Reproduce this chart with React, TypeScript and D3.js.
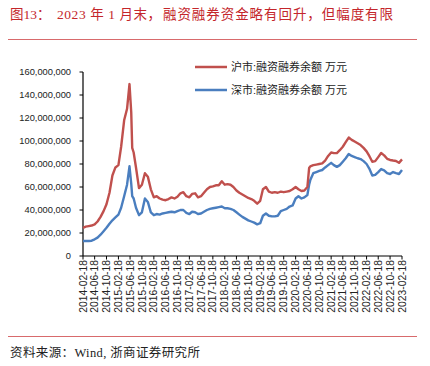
import React from 'react';
import * as d3 from 'd3';

// 日期（周期数据，取自图像）
const dates: string[] = [
  '2014-02-18','2014-03-18','2014-04-18','2014-05-18','2014-06-18','2014-07-18','2014-08-18','2014-09-18','2014-10-18','2014-11-18','2014-12-18',
  '2015-01-18','2015-02-18','2015-03-18','2015-04-18','2015-05-18','2015-06-12','2015-06-30','2015-07-10','2015-07-25','2015-08-18','2015-09-18','2015-10-18','2015-11-18','2015-12-18',
  '2016-01-18','2016-02-18','2016-03-18','2016-04-18','2016-05-18','2016-06-18','2016-07-18','2016-08-18','2016-09-18','2016-10-18','2016-11-18','2016-12-18',
  '2017-01-18','2017-02-18','2017-03-18','2017-04-18','2017-05-18','2017-06-18','2017-07-18','2017-08-18','2017-09-18','2017-10-18','2017-11-18','2017-12-18',
  '2018-01-18','2018-02-18','2018-03-18','2018-04-18','2018-05-18','2018-06-18','2018-07-18','2018-08-18','2018-09-18','2018-10-18','2018-11-18','2018-12-18',
  '2019-01-18','2019-02-18','2019-03-18','2019-04-18','2019-05-18','2019-06-18','2019-07-18','2019-08-18','2019-09-18','2019-10-18','2019-11-18','2019-12-18',
  '2020-01-18','2020-02-18','2020-03-18','2020-04-18','2020-05-18','2020-06-18','2020-07-06','2020-07-18','2020-08-18','2020-09-18','2020-10-18','2020-11-18','2020-12-18',
  '2021-01-18','2021-02-18','2021-03-18','2021-04-18','2021-05-18','2021-06-18','2021-07-18','2021-08-18','2021-09-18','2021-10-18','2021-11-18','2021-12-18',
  '2022-01-18','2022-02-18','2022-03-18','2022-04-18','2022-05-18','2022-06-18','2022-07-18','2022-08-18','2022-09-18','2022-10-18','2022-11-18','2022-12-18',
  '2023-01-18','2023-02-18',
];

// 沪市:融资融券余额 万元
const shValues: number[] = [
  24500000,25500000,26000000,26500000,27500000,30000000,34000000,39000000,45000000,55000000,70000000,
  77000000,79000000,95000000,118000000,128000000,149500000,125000000,94000000,90000000,77000000,59000000,62000000,72000000,69000000,
  58000000,51000000,52000000,50000000,49000000,48500000,49500000,51000000,50000000,51500000,54500000,55500000,
  52000000,51000000,54000000,54500000,51000000,52000000,55000000,58000000,60000000,60500000,61500000,61500000,
  65000000,62000000,62500000,62000000,60000000,57000000,55000000,53500000,52000000,50500000,49500000,48000000,
  45500000,48000000,58000000,60000000,56000000,55000000,55500000,55000000,56000000,55500000,56000000,56500000,
  58000000,60000000,58000000,56500000,57000000,60000000,76500000,78000000,79000000,79500000,80000000,80500000,83000000,
  87000000,90000000,89500000,89500000,92000000,95000000,99000000,103000000,101000000,99500000,98000000,96500000,
  94000000,91000000,87000000,82000000,82500000,86000000,89500000,87500000,84500000,83500000,83000000,82600000,
  81000000,84000000,
];

// 深市:融资融券余额 万元
const szValues: number[] = [
  13000000,13000000,13000000,13300000,14500000,16000000,18500000,21500000,24500000,28000000,31000000,
  33500000,36000000,42000000,52000000,62000000,78000000,63000000,52000000,50000000,42000000,35500000,38000000,50000000,47000000,
  38000000,35500000,36500000,36000000,37000000,37500000,38000000,38500000,38000000,39000000,40000000,40000000,
  37500000,36500000,38500000,38000000,36500000,37000000,38500000,40000000,41000000,41500000,42000000,42500000,
  43000000,41500000,41500000,41000000,40000000,38000000,36000000,34000000,32500000,31000000,30000000,29000000,
  27500000,28500000,35000000,37000000,35000000,34500000,34500000,35000000,39000000,40000000,41000000,43000000,
  44000000,50000000,52000000,50000000,51000000,53000000,62000000,66000000,72000000,73000000,74000000,74800000,77000000,
  79000000,81000000,79000000,77500000,79000000,82000000,85000000,88700000,87000000,86000000,85000000,84300000,
  82500000,80000000,76000000,70000000,70500000,73000000,75600000,74500000,72000000,71300000,73000000,72000000,
  71300000,74800000,
];

const yTicks: number[] = [0, 20000000, 40000000, 60000000, 80000000, 100000000, 120000000, 140000000, 160000000];

const xTickLabels: string[] = [
  '2014-02-18','2014-06-18','2014-10-18','2015-02-18','2015-06-18','2015-10-18','2016-02-18','2016-06-18','2016-10-18',
  '2017-02-18','2017-06-18','2017-10-18','2018-02-18','2018-06-18','2018-10-18','2019-02-18','2019-06-18','2019-10-18',
  '2020-02-18','2020-06-18','2020-10-18','2021-02-18','2021-06-18','2021-10-18','2022-02-18','2022-06-18','2022-10-18','2023-02-18',
];

const seriesNames: string[] = ['沪市:融资融券余额 万元', '深市:融资融券余额 万元'];
const titleParts: string[] = ['图13：', '2023 年 1 月末，', '融资融券资金略有回升，但幅度有限'];
const source = '资料来源：Wind, 浙商证券研究所';

const RED = '#C0504D';
const BLUE = '#4A7EBF';
const TITLE_RED = '#C4262B';

export default function App() {
  const W = 430, H = 366;
  const parse = d3.timeParse('%Y-%m-%d');
  const x = d3.scaleTime()
    .domain([parse('2014-02-18') as Date, parse('2023-02-18') as Date])
    .range([83, 402]);
  const y = d3.scaleLinear().domain([0, 160000000]).range([256, 72]);
  const fmt = d3.format(',');

  const pts = dates.map((d, i) => ({ d: parse(d) as Date, sh: shValues[i], sz: szValues[i] }));
  const lineSh = d3.line<any>().x(p => x(p.d)).y(p => y(p.sh)).curve(d3.curveLinear);
  const lineSz = d3.line<any>().x(p => x(p.d)).y(p => y(p.sz)).curve(d3.curveLinear);

  const sans = '"Liberation Sans", Arial, "Noto Sans CJK SC", sans-serif';
  const serif = '"Liberation Serif", "Times New Roman", "Noto Sans CJK SC", serif';

  const titleSlots: { x: number; len?: number }[] = [
    { x: 10 },
    { x: 57, len: 104 },
    { x: 163, len: 230 },
  ];

  return (
    <svg width={W} height={H} style={{ position: 'absolute', left: 0, top: 0, background: '#fff' }}>
      <rect x={0} y={0} width={W} height={H} fill="#fff" />
      {/* title */}
      {titleParts.map((t, i) => (
        <text key={i} x={titleSlots[i].x} y={19} fontFamily={serif} fontSize={13.5} fill={TITLE_RED}
          textLength={titleSlots[i].len} lengthAdjust="spacing">{t}</text>
      ))}
      <line x1={8} x2={417} y1={39.5} y2={39.5} stroke="#D86A6C" strokeWidth={1} />

      {/* y axis */}
      <line x1={83} x2={83} y1={y(160000000)} y2={256} stroke="#000" strokeWidth={1.2} />
      {yTicks.map(t => (
        <g key={t}>
          <line x1={79.5} x2={83} y1={y(t)} y2={y(t)} stroke="#000" strokeWidth={1} />
          <text x={71} y={y(t)} dy="0.35em" textAnchor="end" fontFamily={sans} fontSize={9.3} fill="#222">{fmt(t)}</text>
        </g>
      ))}

      {/* x axis */}
      <line x1={83} x2={402} y1={256} y2={256} stroke="#000" strokeWidth={1.2} />
      {xTickLabels.map(l => {
        const xp = x(parse(l) as Date);
        return (
          <g key={l}>
            <line x1={xp} x2={xp} y1={256} y2={259.5} stroke="#000" strokeWidth={1} />
            <text transform={`translate(${xp},260) rotate(-90)`} textAnchor="end" dy="0.35em"
              fontFamily={sans} fontSize={10.3} fill="#222">{l}</text>
          </g>
        );
      })}

      {/* series */}
      <path d={lineSz(pts) || ''} fill="none" stroke={BLUE} strokeWidth={2.4} strokeLinejoin="round" />
      <path d={lineSh(pts) || ''} fill="none" stroke={RED} strokeWidth={2.4} strokeLinejoin="round" />

      {/* legend */}
      <line x1={195} x2={227} y1={67} y2={67} stroke={RED} strokeWidth={2.5} />
      <text x={231} y={67} dy="0.36em" fontFamily={sans} fontSize={11} fill="#222">{seriesNames[0]}</text>
      <line x1={195} x2={227} y1={90} y2={90} stroke={BLUE} strokeWidth={2.5} />
      <text x={231} y={90} dy="0.36em" fontFamily={sans} fontSize={11} fill="#222">{seriesNames[1]}</text>

      {/* footer */}
      <line x1={8} x2={417} y1={336.5} y2={336.5} stroke="#D86A6C" strokeWidth={1} />
      <text x={10} y={357} fontFamily={serif} fontSize={12.5} fill="#222" textLength={190} lengthAdjust="spacing">{source}</text>
    </svg>
  );
}
